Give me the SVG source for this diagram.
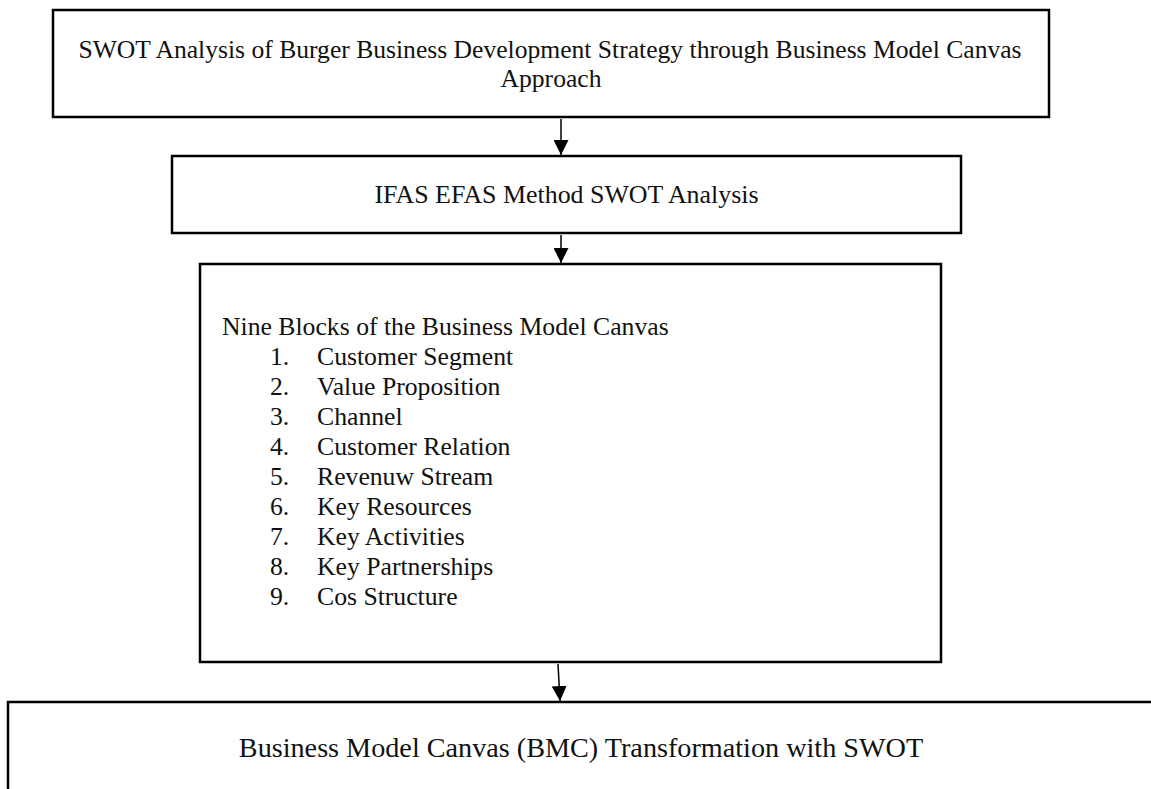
<svg xmlns="http://www.w3.org/2000/svg" width="1151" height="789" viewBox="0 0 1151 789">
  <defs>
    <marker id="arrowhead" markerWidth="15" markerHeight="15" refX="15" refY="7.5" orient="auto" markerUnits="userSpaceOnUse">
      <path d="M0,0 L15,7.5 L0,15 Z" fill="#000"/>
    </marker>
    <style>
      .box { fill: #fff; stroke: #000; stroke-width: 2.5; }
      .label { font-family: "Liberation Serif", "Times New Roman", serif; fill: #111; }
      .conn { stroke: #000; stroke-width: 1.5; fill: none; marker-end: url(#arrowhead); }
    </style>
  </defs>
  <rect width="1151" height="789" fill="#fff"/>

  <g id="node-title">
    <rect class="box" x="53" y="10" width="996" height="107"/>
    <text class="label" font-size="25.6" text-anchor="middle" x="550" y="58">SWOT Analysis of Burger Business Development Strategy through Business Model Canvas</text>
    <text class="label" font-size="25.6" text-anchor="middle" x="551" y="87">Approach</text>
  </g>

  <g id="node-ifas-efas">
    <rect class="box" x="172" y="156" width="789" height="77"/>
    <text class="label" font-size="25.9" text-anchor="middle" x="566.5" y="203">IFAS EFAS Method SWOT Analysis</text>
  </g>

  <g id="node-nine-blocks">
    <rect class="box" x="200" y="264" width="741" height="398"/>
    <g class="label" font-size="25.7">
      <text x="222" y="335">Nine Blocks of the Business Model Canvas</text>
      <text x="270" y="365">1.</text><text x="317" y="365">Customer Segment</text>
      <text x="270" y="395">2.</text><text x="317" y="395">Value Proposition</text>
      <text x="270" y="425">3.</text><text x="317" y="425">Channel</text>
      <text x="270" y="455">4.</text><text x="317" y="455">Customer Relation</text>
      <text x="270" y="485">5.</text><text x="317" y="485">Revenuw Stream</text>
      <text x="270" y="515">6.</text><text x="317" y="515">Key Resources</text>
      <text x="270" y="545">7.</text><text x="317" y="545">Key Activities</text>
      <text x="270" y="575">8.</text><text x="317" y="575">Key Partnerships</text>
      <text x="270" y="605">9.</text><text x="317" y="605">Cos Structure</text>
    </g>
  </g>

  <g id="node-bmc-transformation">
    <rect class="box" x="8" y="702" width="1160" height="120"/>
    <text class="label" font-size="28.2" text-anchor="middle" x="581" y="757">Business Model Canvas (BMC) Transformation with SWOT</text>
  </g>

  <g id="connectors">
    <line class="conn" x1="561" y1="119" x2="561" y2="155"/>
    <line class="conn" x1="561" y1="235" x2="561" y2="263"/>
    <line class="conn" x1="558" y1="664" x2="560" y2="701"/>
  </g>
</svg>
